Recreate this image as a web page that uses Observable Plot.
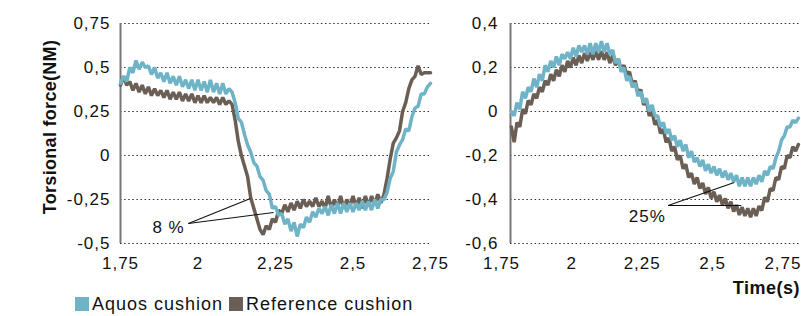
<!DOCTYPE html>
<html>
<head>
<meta charset="utf-8">
<script src="https://cdn.jsdelivr.net/npm/d3@7"></script>
<script src="https://cdn.jsdelivr.net/npm/@observablehq/plot@0.6"></script>
<style>
  html, body { margin: 0; padding: 0; background: #fff; }
  #wrap { position: relative; width: 801px; height: 316px; overflow: hidden; font-family: "Liberation Sans", Arial, sans-serif; }
  #left, #right { position: absolute; top: 0; }
  #left { left: 0; }
  #right { left: 440px; }
  #ylabel { position: absolute; left: 50px; top: 127px; transform: translate(-50%, -50%) rotate(-90deg); font-weight: bold; font-size: 18px; letter-spacing: 0.3px; white-space: nowrap; color: #111; }
  #xlabel { position: absolute; right: 1px; top: 278px; font-weight: bold; font-size: 18px; letter-spacing: 0.5px; color: #111; }
  #legend { position: absolute; left: 75px; top: 294px; font-size: 18px; letter-spacing: 1px; color: #111; white-space: nowrap; }
  #legend .sw { display: inline-block; width: 14px; height: 14px; vertical-align: -1px; margin-right: 3px; }
  #legend .item { margin-right: 6px; }
</style>
</head>
<body>
<div id="wrap">
  <div id="left"></div>
  <div id="right"></div>
  <div id="ylabel">Torsional force(NM)</div>
  <div id="xlabel">Time(s)</div>
  <div id="legend"></div>
</div>
<script>
// ---------- data ----------
const seriesNames = ["Aquos cushion", "Reference cushion"];
const seriesColors = ["#6fb3c7", "#6a5e55"];
const timeStep = 0.01;

// left panel (sampled from t = 1.75 every 0.01 s)
const leftStart = 1.75;
const aquosLeft = [
  0.41, 0.45, 0.42, 0.50, 0.47, 0.54, 0.49, 0.53, 0.50, 0.51,
  0.46, 0.50, 0.44, 0.47, 0.42, 0.47, 0.41, 0.45, 0.40, 0.45,
  0.39, 0.43, 0.38, 0.43, 0.37, 0.43, 0.37, 0.42, 0.36, 0.43,
  0.36, 0.41, 0.35, 0.41, 0.35, 0.38, 0.36, 0.30, 0.21, 0.19,
  0.12, 0.06, 0.02, -0.04, -0.06, -0.12, -0.14, -0.20, -0.22, -0.30,
  -0.29, -0.34, -0.33, -0.39, -0.36, -0.43, -0.38, -0.46, -0.39, -0.41,
  -0.35, -0.38, -0.32, -0.35, -0.30, -0.33, -0.29, -0.34, -0.28, -0.33,
  -0.27, -0.33, -0.27, -0.32, -0.27, -0.32, -0.27, -0.31, -0.26, -0.31,
  -0.26, -0.31, -0.25, -0.30, -0.25, -0.25, -0.21, -0.13, -0.09, 0.02,
  0.06, 0.09, 0.15, 0.14, 0.22, 0.27, 0.28, 0.35, 0.35, 0.39,
  0.41
];
const referenceLeft = [
  0.40, 0.45, 0.40, 0.42, 0.37, 0.41, 0.36, 0.40, 0.35, 0.39,
  0.34, 0.38, 0.34, 0.37, 0.33, 0.37, 0.32, 0.36, 0.32, 0.36,
  0.31, 0.35, 0.31, 0.35, 0.30, 0.34, 0.30, 0.34, 0.30, 0.33,
  0.30, 0.33, 0.29, 0.33, 0.29, 0.31, 0.29, 0.20, 0.08, 0.00,
  -0.06, -0.12, -0.24, -0.30, -0.36, -0.42, -0.45, -0.40, -0.42, -0.36,
  -0.38, -0.31, -0.33, -0.28, -0.32, -0.27, -0.31, -0.26, -0.30, -0.25,
  -0.29, -0.26, -0.29, -0.24, -0.29, -0.26, -0.30, -0.23, -0.30, -0.25,
  -0.30, -0.23, -0.30, -0.25, -0.29, -0.23, -0.29, -0.24, -0.30, -0.23,
  -0.29, -0.23, -0.28, -0.22, -0.27, -0.22, -0.13, -0.02, 0.07, 0.10,
  0.14, 0.25, 0.30, 0.38, 0.43, 0.45, 0.51, 0.46, 0.47, 0.47,
  0.47
];

// right panel (sampled from t = 1.785 every 0.01 s)
const rightStart = 1.785;
const aquosRight = [
  0.00, -0.02, 0.04, 0.01, 0.09, 0.06, 0.11, 0.09, 0.15, 0.11,
  0.17, 0.14, 0.21, 0.18, 0.23, 0.20, 0.25, 0.21, 0.26, 0.24,
  0.27, 0.24, 0.29, 0.25, 0.30, 0.27, 0.30, 0.26, 0.31, 0.26,
  0.31, 0.27, 0.32, 0.27,
  0.31, 0.26, 0.28, 0.22, 0.24, 0.18, 0.20, 0.14, 0.16, 0.11,
  0.13, 0.07, 0.09, 0.04, 0.06, 0.00, 0.03, -0.02, -0.02, -0.07,
  -0.05, -0.10, -0.08, -0.13, -0.11, -0.16, -0.13, -0.18, -0.15, -0.21,
  -0.18, -0.23, -0.21, -0.25, -0.22, -0.27, -0.24, -0.28, -0.25, -0.29,
  -0.26, -0.30, -0.27, -0.31, -0.28, -0.32, -0.29, -0.34, -0.30, -0.34,
  -0.30, -0.34, -0.30, -0.33, -0.29, -0.32, -0.27, -0.29, -0.25, -0.26,
  -0.21, -0.18, -0.13, -0.11, -0.07, -0.07, -0.04, -0.05, -0.03
];
const referenceRight = [
  -0.07, -0.14, -0.05, -0.07, 0.01, -0.01, 0.05, 0.03, 0.08, 0.06,
  0.11, 0.09, 0.14, 0.12, 0.17, 0.14, 0.19, 0.16, 0.21, 0.18,
  0.23, 0.20, 0.245, 0.21, 0.255, 0.22, 0.265, 0.23, 0.27, 0.235,
  0.275, 0.235, 0.275, 0.235, 0.27, 0.22, 0.255, 0.21, 0.24, 0.19,
  0.21, 0.17, 0.18, 0.12, 0.14, 0.08, 0.10, 0.03, 0.05, -0.02,
  0.00, -0.06, -0.04, -0.10, -0.08, -0.14, -0.12, -0.18, -0.16, -0.22,
  -0.20, -0.26, -0.24, -0.30, -0.28, -0.33, -0.30, -0.35, -0.325, -0.375,
  -0.345, -0.395, -0.365, -0.41, -0.38, -0.425, -0.395, -0.44, -0.41, -0.455,
  -0.425, -0.47, -0.435, -0.475, -0.44, -0.48, -0.44, -0.475, -0.43, -0.45,
  -0.39, -0.41, -0.35, -0.36, -0.30, -0.31, -0.25, -0.26, -0.20, -0.21,
  -0.16, -0.18, -0.15
];

// axes
const xTicks = [1.75, 2, 2.25, 2.5, 2.75];
const yTicksLeft = [-0.5, -0.25, 0, 0.25, 0.5, 0.75];
const yTicksRight = [-0.6, -0.4, -0.2, 0, 0.2, 0.4];
const xDomainLeft = [1.75, 2.75];
const xDomainRight = [1.75, 2.816];
const rightAxisAt = 1.782;

// annotations: callout origin and two targets
const calloutLeft = { label: "8 %", text: [1.905, -0.409], from: [1.969, -0.386], to: [[2.169, -0.244], [2.244, -0.324]] };
const calloutRight = { label: "25%", text: [2.268, -0.477], from: [2.342, -0.427], to: [[2.577, -0.323], [2.602, -0.427]] };

// ---------- helpers ----------
const fmt = d => String(d).replace(".", ",");
const toRows = (vals, start) => vals.map((v, i) => ({ t: start + i * timeStep, v }));

function panel({ el, width, marginLeft, marginRight, xDomain, yDomain, yTicks, axisAt, gridX2, aq, ref, callout, yPad }) {
  const links = callout.to.map(p => ({ x1: callout.from[0], y1: callout.from[1], x2: p[0], y2: p[1] }));
  const chart = Plot.plot({
    width, height: 275,
    marginLeft, marginRight, marginTop: 23, marginBottom: 32,
    style: { fontFamily: "'Liberation Sans', Arial, sans-serif", fontSize: "17px", letterSpacing: "1px", color: "#111", background: "transparent", overflow: "visible" },
    x: { domain: xDomain, label: null },
    y: { domain: yDomain, label: null },
    marks: [
      Plot.ruleY(yTicks, { x1: axisAt, x2: gridX2, stroke: "#333", strokeWidth: 1.2, strokeDasharray: "1.5,2.6" }),
      Plot.ruleX([axisAt], { stroke: "#777", strokeWidth: 2 }),
      Plot.line(ref, { x: "t", y: "v", stroke: seriesColors[1], strokeWidth: 3.5, strokeLinejoin: "miter" }),
      Plot.line(aq, { x: "t", y: "v", stroke: seriesColors[0], strokeWidth: 3.5, strokeLinejoin: "miter" }),
      Plot.link(links, { x1: "x1", y1: "y1", x2: "x2", y2: "y2", stroke: "#111", strokeWidth: 1.1 }),
      Plot.text([callout], { x: d => d.text[0], y: d => d.text[1], text: "label", fill: "#111", fontSize: 17 }),
      Plot.axisX({ ticks: xTicks, tickFormat: fmt, tickSize: 0, tickPadding: 13, label: null }),
      Plot.axisY({ ticks: yTicks, tickFormat: fmt, tickSize: 0, tickPadding: yPad, label: null })
    ]
  });
  document.getElementById(el).appendChild(chart);
}

panel({
  el: "left", width: 440, marginLeft: 120, marginRight: 10,
  xDomain: xDomainLeft, yDomain: [-0.5, 0.75], yTicks: yTicksLeft,
  axisAt: xDomainLeft[0], gridX2: xDomainLeft[1],
  aq: toRows(aquosLeft, leftStart), ref: toRows(referenceLeft, leftStart),
  callout: calloutLeft, yPad: 10
});
panel({
  el: "right", width: 361, marginLeft: 61, marginRight: 0,
  xDomain: xDomainRight, yDomain: [-0.6, 0.4], yTicks: yTicksRight,
  axisAt: rightAxisAt, gridX2: xDomainRight[1],
  aq: toRows(aquosRight, rightStart), ref: toRows(referenceRight, rightStart),
  callout: calloutRight, yPad: 3
});

// legend
const legend = document.getElementById("legend");
seriesNames.forEach((name, i) => {
  const item = document.createElement("span");
  item.className = "item";
  item.innerHTML = `<span class="sw" style="background:${seriesColors[i]}"></span>${name}`;
  legend.appendChild(item);
});
</script>
</body>
</html>
